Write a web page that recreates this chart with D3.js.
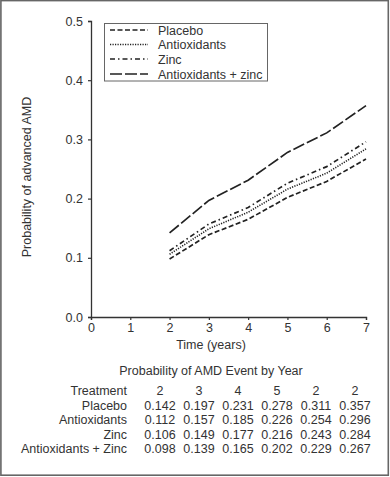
<!DOCTYPE html>
<html>
<head>
<meta charset="utf-8">
<script src="https://cdn.jsdelivr.net/npm/d3@7"></script>
<style>
  html, body { margin: 0; padding: 0; background: #fff; }
  svg { display: block; }
  text { font-family: "Liberation Sans", Arial, Helvetica, sans-serif; fill: #333; }
</style>
</head>
<body>
<svg id="chart" width="390" height="477"></svg>
<script>
// ---- Data ----
const years = [2, 3, 4, 5, 6, 7];
const placebo = [0.098, 0.139, 0.165, 0.202, 0.229, 0.267];
const antioxidants = [0.106, 0.149, 0.177, 0.216, 0.243, 0.284];
const zinc = [0.112, 0.157, 0.185, 0.226, 0.254, 0.296];
const antioxidantsZinc = [0.142, 0.197, 0.231, 0.278, 0.311, 0.357];

const seriesNames = ["Placebo", "Antioxidants", "Zinc", "Antioxidants + zinc"];
const seriesDash = ["5,2.5", "1.2,1.3", "5,3,1.5,3", "12,3"];

const xTicks = [0, 1, 2, 3, 4, 5, 6, 7];
const yTicks = [0.0, 0.1, 0.2, 0.3, 0.4, 0.5];

// Table as printed
const tableTitle = "Probability of AMD Event by Year";
const tableHeader = ["2", "3", "4", "5", "2", "2"];
const tableLabels = ["Placebo", "Antioxidants", "Zinc", "Antioxidants + Zinc"];
const tablePlacebo = ["0.142", "0.197", "0.231", "0.278", "0.311", "0.357"];
const tableAntioxidants = ["0.112", "0.157", "0.185", "0.226", "0.254", "0.296"];
const tableZinc = ["0.106", "0.149", "0.177", "0.216", "0.243", "0.284"];
const tableAntioxZinc = ["0.098", "0.139", "0.165", "0.202", "0.229", "0.267"];

// ---- Drawing ----
const svg = d3.select("#chart");
const fs = 12.5;

// outer border
svg.append("rect").attr("x", 0.9).attr("y", 0.6).attr("width", 387.4).attr("height", 474.6)
  .attr("fill", "none").attr("stroke", "#666").attr("stroke-width", 1.6);

const x = d3.scaleLinear().domain([0, 7]).range([91, 366]);
const y = d3.scaleLinear().domain([0, 0.5]).range([317, 21]);

const yAxis = svg.append("g").attr("transform", "translate(91,0)")
  .call(d3.axisLeft(y).tickValues(yTicks).tickFormat(d3.format(".1f")).tickSize(3).tickPadding(5));
const xAxis = svg.append("g").attr("transform", "translate(0,317)")
  .call(d3.axisBottom(x).tickValues(xTicks).tickFormat(d3.format("d")).tickSize(3).tickPadding(3));
[yAxis, xAxis].forEach(g => {
  g.select(".domain").attr("stroke", "#333").attr("stroke-width", 1.3);
  g.selectAll(".tick line").attr("stroke", "#333").attr("stroke-width", 1.2);
  g.selectAll(".tick text").attr("font-size", fs).attr("fill", "#333")
    .attr("font-family", "Liberation Sans, Arial, sans-serif");
});

// y label
svg.append("text").attr("transform", "translate(31,177) rotate(-90)")
  .attr("text-anchor", "middle").attr("font-size", fs).text("Probability of advanced AMD");
// x label
svg.append("text").attr("x", 211).attr("y", 349).attr("text-anchor", "middle")
  .attr("font-size", fs).text("Time (years)");

// lines
const allSeries = [placebo, antioxidants, zinc, antioxidantsZinc];
const line = d3.line().x((d, i) => x(years[i])).y(d => y(d));
allSeries.forEach((s, k) => {
  svg.append("path").datum(s).attr("d", line).attr("fill", "none")
    .attr("stroke", "#222").attr("stroke-width", k === 1 ? 1.6 : 1.7)
    .attr("stroke-dasharray", seriesDash[k]);
});

// legend
const lg = svg.append("g");
lg.append("rect").attr("x", 104.5).attr("y", 23.5).attr("width", 163).attr("height", 57.5)
  .attr("fill", "#fff").attr("stroke", "#666").attr("stroke-width", 1);
const legendY = [30, 44.5, 59, 74];
seriesNames.forEach((n, k) => {
  lg.append("line").attr("x1", 110).attr("x2", 148).attr("y1", legendY[k]).attr("y2", legendY[k])
    .attr("stroke", "#222").attr("stroke-width", 1.7).attr("stroke-dasharray", seriesDash[k]);
  lg.append("text").attr("x", 158).attr("y", legendY[k] + 4.5).attr("font-size", fs).text(n);
});

// table
svg.append("text").attr("x", 211).attr("y", 374.5).attr("text-anchor", "middle")
  .attr("font-size", fs).text(tableTitle);
const rowY = [391, 405.5, 420, 434.5];
const colX = d3.range(6).map(i => 160 + 39 * i);
const rows = [
  ["Treatment", tableHeader],
  [tableLabels[0], tablePlacebo],
  [tableLabels[1], tableAntioxidants],
  [tableLabels[2], tableZinc],
  [tableLabels[3], tableAntioxZinc]
];
const allRowY = [391, 405.5, 420, 434.5, 449].slice(0, 5);
const rY = [390.5, 405, 419.5, 434, 448.5];
rows.forEach((r, ri) => {
  const yy = [390.5, 405, 419.5, 434, 448.5][ri] - 14.5 + 14.5;
  svg.append("text").attr("x", 127).attr("y", yy + 4.5).attr("text-anchor", "end")
    .attr("font-size", fs).text(r[0]);
  r[1].forEach((v, ci) => {
    svg.append("text").attr("x", colX[ci]).attr("y", yy + 4.5).attr("text-anchor", "middle")
      .attr("font-size", fs).text(v);
  });
});
</script>
</body>
</html>
